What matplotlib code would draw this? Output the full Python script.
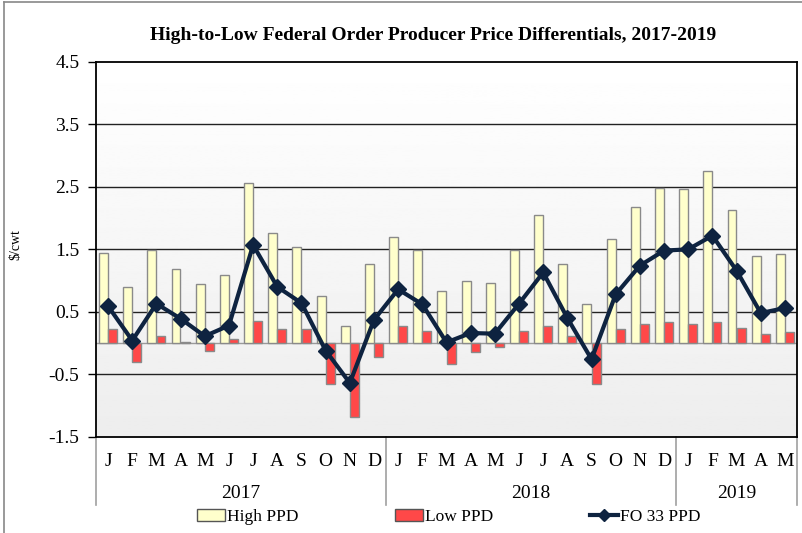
import numpy as np
import matplotlib
matplotlib.use("Agg")
import matplotlib.pyplot as plt
from matplotlib.patches import Patch, Rectangle
from matplotlib.lines import Line2D
import matplotlib.transforms as mtransforms

plt.rcParams['font.family'] = ['Liberation Serif', 'DejaVu Serif']

months = ["J", "F", "M", "A", "M", "J", "J", "A", "S", "O", "N", "D",
          "J", "F", "M", "A", "M", "J", "J", "A", "S", "O", "N", "D",
          "J", "F", "M", "A", "M"]
years = ["2017", "2018", "2019"]
year_counts = [12, 12, 5]

high_ppd = [1.44, 0.89, 1.49, 1.18, 0.94, 1.09, 2.56, 1.76, 1.53, 0.75, 0.27, 1.27,
            1.70, 1.49, 0.84, 1.00, 0.96, 1.49, 2.05, 1.26, 0.62, 1.66, 2.18, 2.49,
            2.46, 2.76, 2.13, 1.39, 1.43]
low_ppd = [0.22, -0.30, 0.12, 0.01, -0.13, 0.06, 0.35, 0.23, 0.23, -0.66, -1.19, -0.23,
           0.27, 0.19, -0.34, -0.15, -0.07, 0.19, 0.27, 0.12, -0.65, 0.22, 0.30, 0.33,
           0.31, 0.33, 0.24, 0.15, 0.17]
fo33_ppd = [0.59, 0.04, 0.63, 0.39, 0.11, 0.28, 1.57, 0.90, 0.64, -0.12, -0.64, 0.37,
            0.86, 0.62, 0.01, 0.16, 0.15, 0.63, 1.13, 0.40, -0.26, 0.78, 1.24, 1.48,
            1.50, 1.72, 1.16, 0.48, 0.56]
yticks = [-1.5, -0.5, 0.5, 1.5, 2.5, 3.5, 4.5]

W, H = 802, 533
fig = plt.figure(figsize=(W / 100, H / 100), dpi=100)

# plot area in pixels
L, R, T, B = 96, 797, 62, 436.7
ax = fig.add_axes([L / W, 1 - B / H, (R - L) / W, (B - T) / H])

n = len(months)
x = np.arange(n)
bw = 0.37
off = 0.19

# gradient background
grad = np.linspace(0.93, 1.0, 256).reshape(-1, 1)
ax.imshow(grad, extent=[0, 1, 0, 1], transform=ax.transAxes, cmap='gray',
          vmin=0, vmax=1, aspect='auto', origin='lower', zorder=0)

for yv in [-0.5, 0.5, 1.5, 2.5, 3.5]:
    ax.axhline(yv, color='#222222', lw=1.0, zorder=1)
ax.axhline(0, color='#9a9a9a', lw=1.0, zorder=1)

ax.bar(x - off, high_ppd, width=bw, color='#FFFFCC', edgecolor='#8a8a8a',
       linewidth=1.0, zorder=2, label='High PPD')
ax.bar(x + off, low_ppd, width=bw, color='#FF4848', edgecolor='#8a8a8a',
       linewidth=1.0, zorder=2, label='Low PPD')
ax.plot(x, fo33_ppd, color='#0E2340', lw=3, marker='D', markersize=8,
        zorder=3, label='FO 33 PPD')

ax.set_xlim(-0.5, n - 0.5)
ax.set_ylim(-1.5, 4.5)
ax.set_yticks(yticks)
ax.set_yticklabels([f"{v:g}" for v in yticks], fontsize=14)
ax.tick_params(axis='y', length=6, width=1, pad=6, colors='black')
ax.set_xticks([])
for s in ax.spines.values():
    s.set_color('black')
    s.set_linewidth(1.3)
    s.set_zorder(4)

# category axis
trans = mtransforms.blended_transform_factory(ax.transData, ax.transAxes)
h_ax = B - T
def ay(px):
    return (B - px) / h_ax

for i, m in enumerate(months):
    ax.text(i, ay(462), m, transform=trans, ha='center', va='center',
            fontsize=14, clip_on=False)

start = 0
bounds = [-0.5]
for yr, c in zip(years, year_counts):
    ax.text(start + (c - 1) / 2, ay(493), yr, transform=trans, ha='center',
            va='center', fontsize=14, clip_on=False)
    start += c
    bounds.append(start - 0.5)
for b in bounds:
    ax.add_line(Line2D([b, b], [0, ay(505)], transform=trans, color='#a0a0a0',
                       lw=1.2, clip_on=False))

# title and y label
fig.text(433 / W, 1 - 36 / H, "High-to-Low Federal Order Producer Price Differentials, 2017-2019",
         ha='center', va='center', fontsize=14, fontweight='bold')
fig.text(16 / W, 1 - 245 / H, "$/cwt", rotation=90, ha='center', va='center',
         fontsize=10)

# legends
handles = [Patch(facecolor='#FFFFCC', edgecolor='#555555', lw=1.0),
           Patch(facecolor='#FF4848', edgecolor='#555555', lw=1.0),
           Line2D([], [], color='#0E2340', lw=3, marker='D', markersize=6)]
labels = ['High PPD', 'Low PPD', 'FO 33 PPD']
starts = [197, 395, 590]
for h, lab, sx in zip(handles, labels, starts):
    lg = fig.legend([h], [lab], loc='center left',
                    bbox_to_anchor=(sx / W, 1 - 517 / H), frameon=False,
                    fontsize=12.5, handlelength=1.6, handleheight=0.7,
                    handletextpad=0.15, borderpad=0, borderaxespad=0)

# outer border (left and top visible)
fig.add_artist(Line2D([4 / W, 4 / W], [0, 1 - 2 / H], transform=fig.transFigure,
                      color='#888888', lw=1.2))
fig.add_artist(Line2D([4 / W, 1], [1 - 2 / H, 1 - 2 / H], transform=fig.transFigure,
                      color='#888888', lw=1.2))

fig.savefig("out.png", dpi=100)
